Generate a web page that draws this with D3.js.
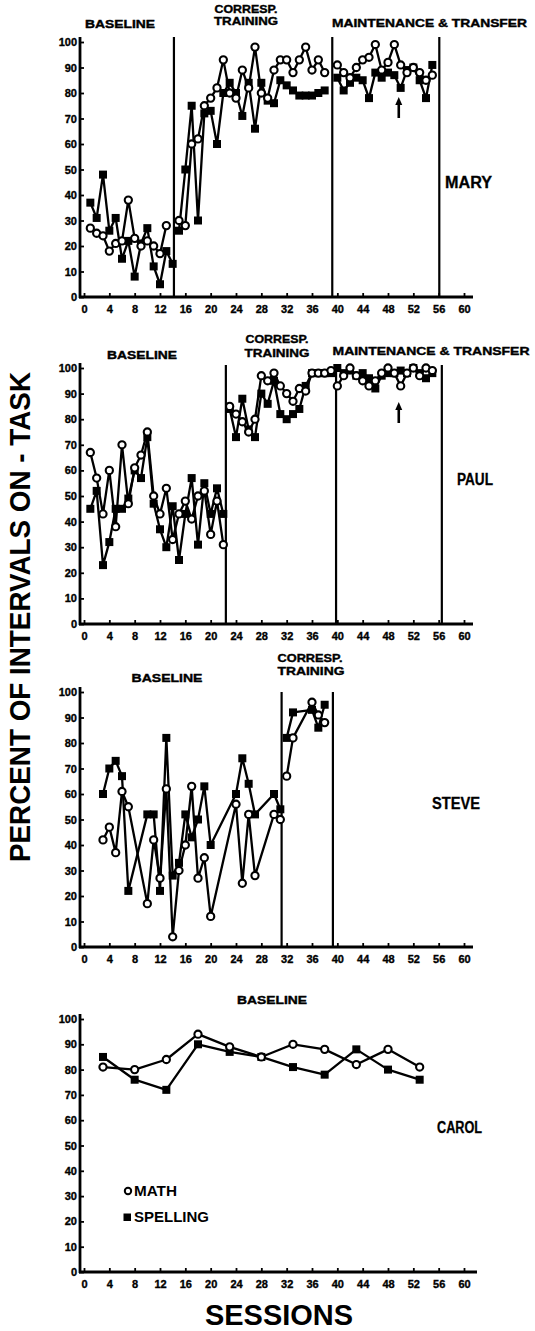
<!DOCTYPE html>
<html><head><meta charset="utf-8">
<script src="https://cdn.jsdelivr.net/npm/d3@7"></script>
<style>
body{margin:0;background:#fff}
svg{display:block;background:#fff}
text{font-family:"Liberation Sans",Arial,sans-serif;font-weight:bold;fill:#000}
</style>
</head><body>
<svg id="chart" width="535" height="1331"></svg>
<script>
// ---------------- DATA ----------------
const sessionTicks = [0,4,8,12,16,20,24,28,32,36,40,44,48,52,56,60];
const percentTicks = [0,10,20,30,40,50,60,70,80,90,100];
const seriesNames = ["MATH","SPELLING"];

// MARY
const maryBaseSessionsMath  = [1,2,3,4,5,6,7,8,9,10,11,12,13];
const maryBaseMath          = [27,25,24,18,21,22,38,23,20,22,20,17,28];
const maryBaseSessionsSpell = [1,2,3,4,5,6,7,8,9,10,11,12,13,14];
const maryBaseSpell         = [37,31,48,26,31,15,22,8,21,27,12,5,18,13];
const maryTrainSessions = [15,16,17,18,19,20,21,22,23,24,25,26,27,28,29,30,31,32,33,34,35,36,37,38];
const maryTrainMath     = [30,28,60,62,75,78,82,93,80,78,89,82,98,80,78,89,93,93,88,93,98,89,93,88];
const maryTrainSpell    = [26,50,75,30,72,73,60,80,84,80,71,84,66,84,77,76,85,83,81,79,79,79,80,81];
const maryMaintSessions = [40,41,42,43,44,45,46,47,48,49,50,51,52,53,54,55];
const maryMaintMath     = [91,88,86,90,93,94,99,89,92,99,91,88,90,88,85,87];
const maryMaintSpell    = [86,81,84,86,85,78,88,86,88,87,82,89,90,85,78,91];
const maryPhaseLines    = [14.2,39.2,56.1];
const maryArrowSession  = 49.7;

// PAUL
const paulBaseSessions = [1,2,3,4,5,6,7,8,9,10,11,12,13,14,15,16,17,18,19,20,21,22];
const paulBaseMath     = [67,57,43,60,38,70,47,61,66,75,50,43,53,33,43,48,41,50,52,35,48,31];
const paulBaseSpell    = [45,52,23,32,45,45,49,60,57,73,47,37,30,46,25,43,57,31,55,43,53,43];
const paulTrainSessions = [23,24,25,26,27,28,29,30,31,32,33,34,35,36,37,38,39];
const paulTrainMath     = [85,82,79,75,80,97,95,98,93,90,87,92,91,98,98,98,99];
const paulTrainSpell    = [84,73,88,76,73,90,86,95,82,80,82,84,93,98,98,98,98];
const paulMaintSessions = [40,41,42,43,44,45,46,47,48,49,50,51,52,53,54,55];
const paulMaintMath     = [93,97,100,97,95,93,95,98,100,98,93,98,100,97,100,99];
const paulMaintSpell    = [100,98,99,97,98,96,92,97,98,98,99,98,100,98,96,98];
const paulPhaseLines    = [22.4,39.8,56.5];
const paulArrowSession  = 49.7;

// STEVE
const steveBaseSessions  = [3,4,5,6,7,10,11,12,13,14,15,16,17,18,19,20,24,25,26,27,30,31];
const steveBaseMath      = [42,47,37,61,55,17,42,27,62,4,30,40,63,27,35,12,56,25,52,28,52,50];
const steveBaseSpell     = [60,70,73,67,22,52,52,22,82,28,33,52,43,50,63,40,60,74,64,52,60,54];
const steveTrainSessions = [32,33,36,37,38];
const steveTrainMath     = [67,82,96,91,88];
const steveTrainSpell    = [82,92,93,86,95];
const stevePhaseLines    = [31.2,39.3];

// CAROL
const carolSessions = [3,8,13,18,23,28,33,38,43,48,53];
const carolMath     = [81,80,84,94,89,85,90,88,82,88,81];
const carolSpell    = [85,76,72,90,87,85,81,78,88,80,76];

// ---------------- LAYOUT ----------------
const svg = d3.select("#chart");
const x = d3.scaleLinear().domain([0,60]).range([84,464]);
const tickFont = '"Liberation Sans Narrow","Liberation Sans",Arial,sans-serif';

const panels = [
  { name:"MARY", y0:297, y100:42, axisEnd:473, lineTop:37,
    phases:[[maryBaseSessionsMath,maryBaseMath,maryBaseSessionsSpell,maryBaseSpell],
            [maryTrainSessions,maryTrainMath,maryTrainSessions,maryTrainSpell],
            [maryMaintSessions,maryMaintMath,maryMaintSessions,maryMaintSpell]],
    lines:maryPhaseLines, arrow:{s:maryArrowSession, top:97, bottom:118},
    nameLbl:{x:445,y:188,w:47},
    labels:[{t:"BASELINE",cx:120,y:27.5,w:70},{t:"CORRESP.",cx:246,y:12.5,w:63},{t:"TRAINING",cx:246,y:24.5,w:64},
            {t:"MAINTENANCE & TRANSFER",cx:429.5,y:27,w:195}] },
  { name:"PAUL", y0:624, y100:368, axisEnd:473, lineTop:365,
    phases:[[paulBaseSessions,paulBaseMath,paulBaseSessions,paulBaseSpell],
            [paulTrainSessions,paulTrainMath,paulTrainSessions,paulTrainSpell],
            [paulMaintSessions,paulMaintMath,paulMaintSessions,paulMaintSpell]],
    lines:paulPhaseLines, arrow:{s:paulArrowSession, top:402, bottom:423},
    nameLbl:{x:457,y:485,w:36},
    labels:[{t:"BASELINE",cx:142,y:359,w:70},{t:"CORRESP.",cx:277,y:343,w:63},{t:"TRAINING",cx:277,y:357,w:65},
            {t:"MAINTENANCE & TRANSFER",cx:431,y:355,w:197}] },
  { name:"STEVE", y0:947, y100:692, axisEnd:473, lineTop:692,
    phases:[[steveBaseSessions,steveBaseMath,steveBaseSessions,steveBaseSpell],
            [steveTrainSessions,steveTrainMath,steveTrainSessions,steveTrainSpell]],
    lines:stevePhaseLines, arrow:null,
    nameLbl:{x:432,y:809,w:48},
    labels:[{t:"BASELINE",cx:167,y:682,w:71},{t:"CORRESP.",cx:310,y:662,w:65},{t:"TRAINING",cx:311,y:675,w:67}] },
  { name:"CAROL", y0:1272, y100:1019, axisEnd:477, lineTop:null,
    phases:[[carolSessions,carolMath,carolSessions,carolSpell]],
    lines:[], arrow:null,
    nameLbl:{x:437,y:1133,w:45},
    labels:[{t:"BASELINE",cx:272,y:1004,w:70}] }
];

panels.forEach(p => {
  const y = d3.scaleLinear().domain([0,100]).range([p.y0,p.y100]);
  const g = svg.append("g");

  // y axis
  const ya = g.append("g").attr("transform","translate(80,0)")
    .call(d3.axisLeft(y).tickValues(percentTicks).tickSizeInner(-4).tickSizeOuter(0).tickPadding(3));
  ya.select(".domain").remove();
  ya.selectAll(".tick line").attr("stroke","#000").attr("stroke-width",1.8).attr("x1",-1);
  ya.selectAll("text").attr("font-size",11).attr("font-family",tickFont).attr("font-weight","bold")
    .attr("fill","#000").attr("stroke","#000").attr("stroke-width",0.35);
  g.append("line").attr("x1",80).attr("x2",80).attr("y1",p.y0+1).attr("y2",y(102))
    .attr("stroke","#000").attr("stroke-width",2.8);

  // x axis
  const xa = g.append("g").attr("transform",`translate(0,${p.y0})`)
    .call(d3.axisBottom(x).tickValues(sessionTicks).tickSizeInner(-4).tickSizeOuter(0).tickPadding(8));
  xa.select(".domain").remove();
  xa.selectAll(".tick line").attr("stroke","#000").attr("stroke-width",1.8);
  xa.selectAll("text").attr("font-size",11).attr("font-family",tickFont).attr("font-weight","bold")
    .attr("fill","#000").attr("stroke","#000").attr("stroke-width",0.35);
  g.append("line").attr("x1",79).attr("x2",p.axisEnd).attr("y1",p.y0).attr("y2",p.y0)
    .attr("stroke","#000").attr("stroke-width",2.8);

  // phase lines
  p.lines.forEach(s => {
    g.append("line").attr("x1",x(s)).attr("x2",x(s)).attr("y1",p.lineTop).attr("y2",p.y0)
      .attr("stroke","#000").attr("stroke-width",2.2);
  });

  // data
  const line = d3.line().x(d=>x(d[0])).y(d=>y(d[1]));
  const allMath = [], allSpell = [];
  p.phases.forEach(ph => {
    const m = ph[0].map((s,i)=>[s,ph[1][i]]);
    const sp = ph[2].map((s,i)=>[s,ph[3][i]]);
    allMath.push(...m); allSpell.push(...sp);
    g.append("path").attr("d",line(sp)).attr("fill","none").attr("stroke","#000").attr("stroke-width",2.3).attr("stroke-linejoin","round");
    g.append("path").attr("d",line(m)).attr("fill","none").attr("stroke","#000").attr("stroke-width",2.3).attr("stroke-linejoin","round");
  });
  g.selectAll("rect.sp").data(allSpell).join("rect").attr("class","sp")
    .attr("x",d=>x(d[0])-4).attr("y",d=>y(d[1])-4).attr("width",8).attr("height",8).attr("fill","#000");
  g.selectAll("circle.m").data(allMath).join("circle").attr("class","m")
    .attr("cx",d=>x(d[0])).attr("cy",d=>y(d[1])).attr("r",3.6)
    .attr("fill","#fff").attr("stroke","#000").attr("stroke-width",2.1);

  // arrow
  if (p.arrow) {
    const ax = x(p.arrow.s);
    g.append("line").attr("x1",ax).attr("x2",ax).attr("y1",p.arrow.bottom).attr("y2",p.arrow.top+5)
      .attr("stroke","#000").attr("stroke-width",2.6);
    g.append("path").attr("d",`M${ax-3.5},${p.arrow.top+8} L${ax},${p.arrow.top} L${ax+3.5},${p.arrow.top+8} Z`).attr("fill","#000");
  }

  // phase labels
  p.labels.forEach(l => {
    g.append("text").attr("x",l.cx).attr("y",l.y).attr("text-anchor","middle")
      .attr("font-size",11.5).attr("stroke","#000").attr("stroke-width",0.4)
      .attr("textLength",l.w).attr("lengthAdjust","spacingAndGlyphs").text(l.t);
  });
  // participant name
  g.append("text").attr("x",p.nameLbl.x).attr("y",p.nameLbl.y).attr("font-size",16)
    .attr("stroke","#000").attr("stroke-width",0.3)
    .attr("textLength",p.nameLbl.w).attr("lengthAdjust","spacingAndGlyphs").text(p.name);
});

// legend (Carol panel)
const leg = svg.append("g");
leg.append("circle").attr("cx",128).attr("cy",1191).attr("r",3.2).attr("fill","#fff").attr("stroke","#000").attr("stroke-width",2);
leg.append("text").attr("x",134).attr("y",1196).attr("font-size",14).attr("textLength",43).attr("lengthAdjust","spacingAndGlyphs").text(seriesNames[0]);
leg.append("rect").attr("x",123.5).attr("y",1213.5).attr("width",7.5).attr("height",7.5).attr("fill","#000");
leg.append("text").attr("x",134).attr("y",1222).attr("font-size",14).attr("textLength",75).attr("lengthAdjust","spacingAndGlyphs").text(seriesNames[1]);

// axis titles
svg.append("text").attr("transform","translate(30,617) rotate(-90)").attr("text-anchor","middle")
  .attr("font-size",29).attr("textLength",490).attr("lengthAdjust","spacingAndGlyphs").text("PERCENT OF INTERVALS ON - TASK");
svg.append("text").attr("x",279).attr("y",1325).attr("text-anchor","middle")
  .attr("font-size",29).attr("textLength",148).attr("lengthAdjust","spacingAndGlyphs").text("SESSIONS");
</script>
</body></html>
